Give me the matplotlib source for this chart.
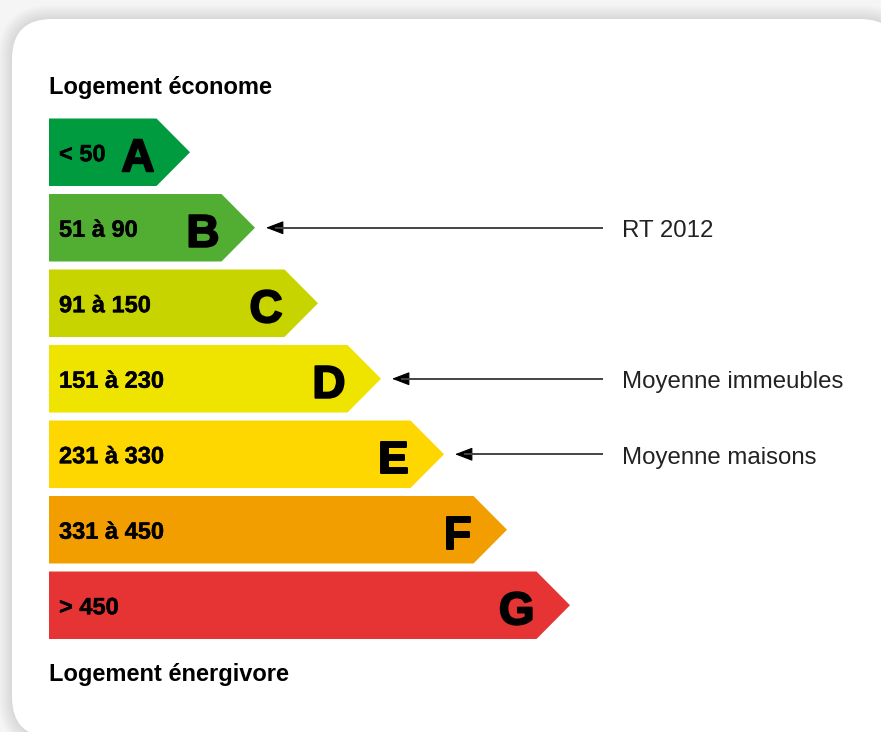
import matplotlib
matplotlib.use('Agg')
import matplotlib.pyplot as plt
import matplotlib.patheffects as pe
from matplotlib.patches import FancyBboxPatch, Polygon, FancyArrowPatch

plt.rcParams['font.family'] = ['Liberation Sans', 'DejaVu Sans']

# energy classes, consumption ranges (kWh/m2/an) and bar lengths
classes = ['A', 'B', 'C', 'D', 'E', 'F', 'G']
ranges = ['< 50', '51 à 90', '91 à 150', '151 à 230', '231 à 330', '331 à 450', '> 450']
bar_len = [141, 206, 269, 332, 395, 458, 521]
colors = ['#009a3f', '#52ae32', '#c8d400', '#efe400', '#fed600', '#f39e00', '#e63434']

# pointers on the right
marks = ['B', 'D', 'E']
mark_labels = ['RT 2012', 'Moyenne immeubles', 'Moyenne maisons']

top_title = 'Logement économe'
bottom_title = 'Logement énergivore'

fig = plt.figure(figsize=(8.81, 7.32), dpi=100)
fig.patch.set_facecolor('#f5f5f5')
ax = fig.add_axes([0, 0, 1, 1])
ax.set_xlim(0, 881)
ax.set_ylim(732, 0)
ax.axis('off')

# card + soft shadow
for k in range(14, 0, -1):
    sh = FancyBboxPatch((12 - k, 19 - k), 888 + 2 * k, 718 + 2 * k,
                        boxstyle='round,pad=0,rounding_size=%d' % (40 + k),
                        fc='#a0a0a0', ec='none', alpha=0.025)
    ax.add_patch(sh)
card = FancyBboxPatch((12, 19), 888, 718, boxstyle='round,pad=0,rounding_size=40',
                      fc='white', ec='none')
ax.add_patch(card)

x0 = 49
h = 67.5
step = 75.5
y_first = 118.5
tip = 33.5
heavy = [pe.withStroke(linewidth=1.4, foreground='black')]
semi = [pe.withStroke(linewidth=0.3, foreground='black')]

for i, (c, r, L, col) in enumerate(zip(classes, ranges, bar_len, colors)):
    yt = y_first + i * step
    yc = yt + h / 2
    xe = x0 + L
    poly = Polygon([(x0, yt), (xe - tip, yt), (xe, yc), (xe - tip, yt + h), (x0, yt + h)],
                   closed=True, fc=col, ec='none')
    ax.add_patch(poly)
    ax.text(x0 + 10, yc + 9, r, fontsize=17, fontweight='bold', color='black',
            ha='left', va='baseline', path_effects=semi)
    ax.text(xe - tip - 2, yc + 19, c, fontsize=33, fontweight='bold', color='black',
            ha='right', va='baseline', path_effects=heavy)
    if c in marks:
        lab = mark_labels[marks.index(c)]
        ax.plot([603, xe + 20], [yc, yc], color='#444444', lw=1.4, solid_capstyle='butt')
        arr = FancyArrowPatch((xe + 26, yc), (xe + 11, yc),
                              arrowstyle='-|>,head_length=11,head_width=4.2',
                              mutation_scale=1, color='black', lw=0.8,
                              shrinkA=0, shrinkB=0)
        ax.add_patch(arr)
        ax.text(622, yc + 9.5, lab, fontsize=17.3, color='#222222',
                ha='left', va='baseline')

ax.text(x0, 94, top_title, fontsize=17, fontweight='bold', color='black',
        ha='left', va='baseline')
ax.text(x0, 681, bottom_title, fontsize=17, fontweight='bold', color='black',
        ha='left', va='baseline')

fig.savefig('out.png', dpi=100, facecolor=fig.get_facecolor())
